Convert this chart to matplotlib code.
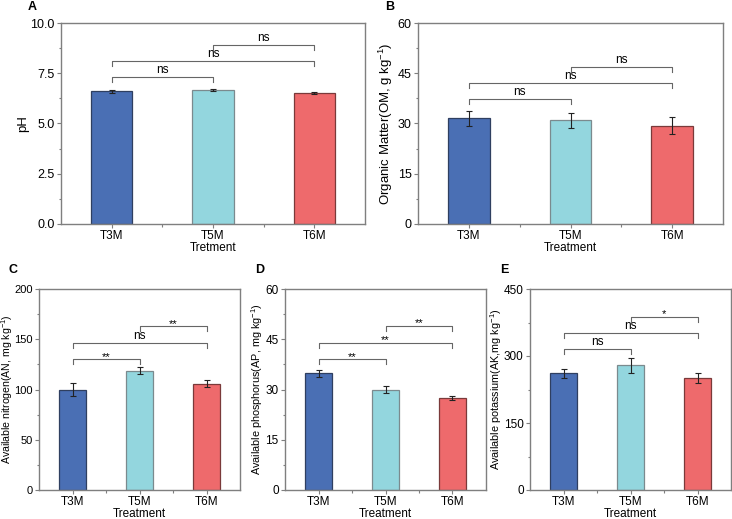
import matplotlib
matplotlib.use('Agg')
import matplotlib.pyplot as plt
from matplotlib.ticker import MultipleLocator, FixedLocator

plt.rcParams['font.family'] = ['Liberation Sans', 'DejaVu Sans']
plt.rcParams['mathtext.fontset'] = 'custom'
plt.rcParams['mathtext.rm'] = 'Liberation Sans'
plt.rcParams['mathtext.it'] = 'Liberation Sans:italic'

# data
groups = ['T3M', 'T5M', 'T6M']

ph = [6.60, 6.66, 6.53]
ph_err = [0.08, 0.06, 0.06]

om = [31.5, 30.9, 29.4]
om_err = [2.3, 2.2, 2.5]

an = [100.0, 118.5, 105.5]
an_err = [6.0, 3.5, 3.5]

ap = [34.8, 30.0, 27.5]
ap_err = [1.1, 0.9, 0.7]

ak = [261, 279, 251]
ak_err = [11, 16, 12]

# significance brackets: (i, j, height, label)
ph_sig = [(0, 1, 7.3, 'ns'), (0, 2, 8.1, 'ns'), (1, 2, 8.9, 'ns')]
om_sig = [(0, 1, 37.3, 'ns'), (0, 2, 42.1, 'ns'), (1, 2, 46.9, 'ns')]
an_sig = [(0, 1, 130, '**'), (0, 2, 146, 'ns'), (1, 2, 163, '**')]
ap_sig = [(0, 1, 39.0, '**'), (0, 2, 43.9, '**'), (1, 2, 49.0, '**')]
ak_sig = [(0, 1, 316, 'ns'), (0, 2, 351, 'ns'), (1, 2, 387, '*')]

colors = ['#4a6fb4', '#93d6de', '#ee6a6c']
edges = ['#2f3f60', '#7b8a8e', '#7a3a3a']
spine_c = '#7f7f7f'


def panel(rect, vals, errs, sig, ymax, ystep, fmt, ylabel, xlabel, letter, lpos,
          ylsize, ylx, ticksize):
    ax = fig.add_axes(rect)
    x = range(len(groups))
    ax.bar(x, vals, width=0.41, color=colors, edgecolor=edges, linewidth=0.9, zorder=2)
    ax.errorbar(x, vals, yerr=errs, fmt='none', ecolor='#222222', elinewidth=0.8,
                capsize=2.2, capthick=0.8, zorder=3)
    ax.set_xlim(-0.5, 2.5)
    ax.set_ylim(0, ymax)
    ax.yaxis.set_major_locator(MultipleLocator(ystep))
    ax.yaxis.set_minor_locator(MultipleLocator(ystep / 2))
    ax.yaxis.set_major_formatter(fmt)
    ax.set_xticks(list(x))
    ax.set_xticklabels(groups)
    ax.xaxis.set_minor_locator(FixedLocator([0.5, 1.5]))
    for s in ax.spines.values():
        s.set_color(spine_c)
        s.set_linewidth(1.0)
    ax.tick_params(which='major', length=3, width=0.8, color=spine_c,
                   labelsize=ticksize, pad=1.5)
    ax.tick_params(axis='x', labelsize=8.5)
    ax.tick_params(which='minor', length=1.8, width=0.8, color=spine_c)
    ax.set_ylabel(ylabel, fontsize=ylsize)
    ax.yaxis.set_label_coords(ylx, 0.5)
    ax.set_xlabel(xlabel, fontsize=8.5, labelpad=0)
    drop = ymax * 0.025
    for i, j, h, lab in sig:
        ax.plot([i, i, j, j], [h - drop, h, h, h - drop], color='#666666', lw=0.8, zorder=4)
        if lab == 'ns':
            ax.text((i + j) / 2, h + ymax * 0.004, lab, ha='center', va='bottom', fontsize=8.5)
        else:
            ax.text((i + j) / 2, h - ymax * 0.012, lab, ha='center', va='bottom', fontsize=8)
    fig.text(lpos[0], lpos[1], letter, fontsize=9, fontweight='bold', ha='center', va='center')
    return ax


fig = plt.figure(figsize=(7.32, 5.19), dpi=100)
W, H = 732, 519


def rect(l, r, t, b):
    return [l / W, 1 - b / H, (r - l) / W, (b - t) / H]


def pos(x, y):
    return (x / W, 1 - y / H)


panel(rect(61, 365, 23, 224), ph, ph_err, ph_sig, 10, 2.5, '{x:.1f}',
      'pH', 'Tretment', 'A', pos(32, 7), 9.5, -0.105, 9)
panel(rect(418, 723, 23, 224), om, om_err, om_sig, 60, 15, '{x:.0f}',
      'Organic Matter(OM, g kg$^{-1}$)', 'Treatment', 'B', pos(390, 7), 9.5, -0.075, 9)
panel(rect(39, 240, 289, 490), an, an_err, an_sig, 200, 50, '{x:.0f}',
      'Available nitrogen(AN, mg kg$^{-1}$)', 'Treatment', 'C', pos(13, 270), 7.6, -0.12, 8)
panel(rect(285, 486, 289, 490), ap, ap_err, ap_sig, 60, 15, '{x:.0f}',
      'Available phosphorus(AP, mg kg$^{-1}$)', 'Treatment', 'D', pos(260, 270), 7.8, -0.1, 8.5)
panel(rect(530, 731, 289, 490), ak, ak_err, ak_sig, 450, 150, '{x:.0f}',
      'Available potassium(AK,mg kg$^{-1}$)', 'Treatment', 'E', pos(504, 270), 7.8, -0.13, 8.5)

fig.savefig('out.png', dpi=100)
